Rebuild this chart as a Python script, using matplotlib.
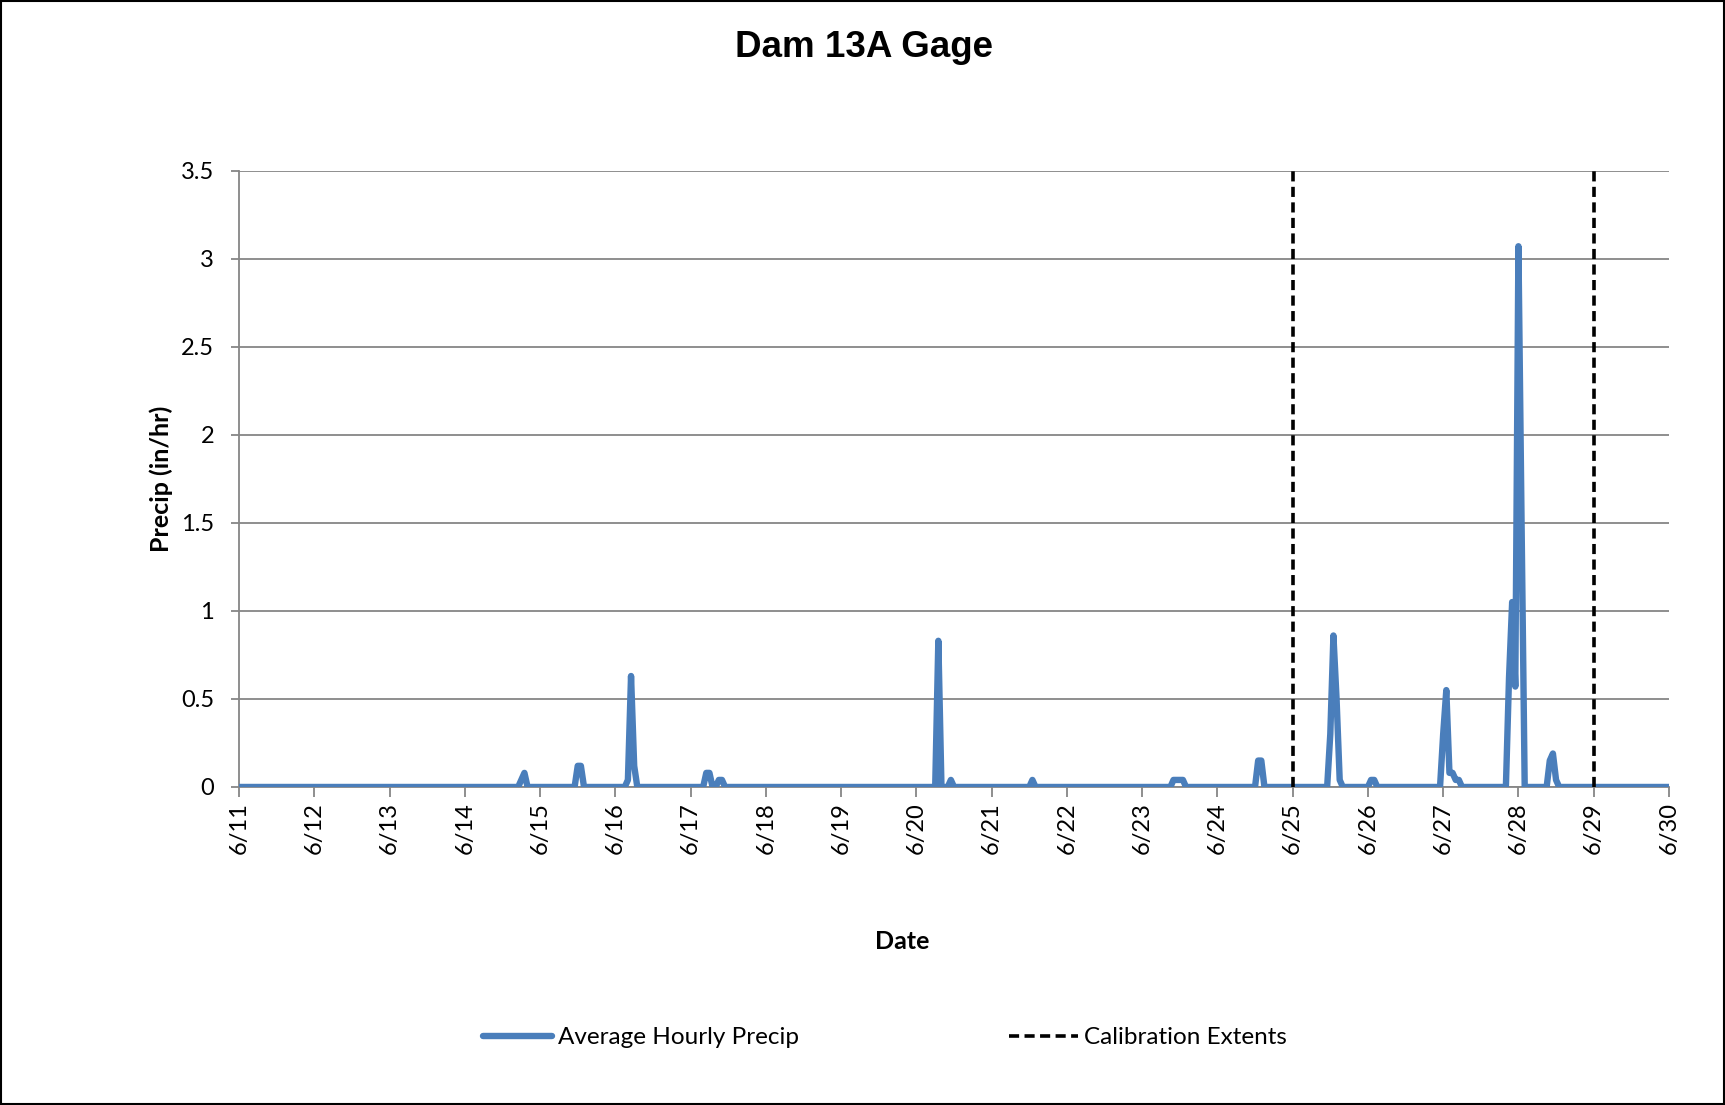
import matplotlib
matplotlib.use("Agg")
import matplotlib.pyplot as plt
import numpy as np
import pandas as pd
from matplotlib.patches import Rectangle

# ---- data ----
start = "2013-06-11 00:00"
end = "2013-06-30 00:00"
event_times = [
    "2013-06-14 18:00", "2013-06-14 19:00",
    "2013-06-15 12:00", "2013-06-15 13:00",
    "2013-06-16 04:00", "2013-06-16 05:00", "2013-06-16 06:00",
    "2013-06-17 05:00", "2013-06-17 06:00", "2013-06-17 09:00", "2013-06-17 10:00",
    "2013-06-20 07:00", "2013-06-20 11:00",
    "2013-06-21 13:00",
    "2013-06-23 10:00", "2013-06-23 11:00", "2013-06-23 12:00", "2013-06-23 13:00",
    "2013-06-24 13:00", "2013-06-24 14:00",
    "2013-06-25 12:00", "2013-06-25 13:00", "2013-06-25 14:00", "2013-06-25 15:00",
    "2013-06-26 01:00", "2013-06-26 02:00",
    "2013-06-27 00:00", "2013-06-27 01:00", "2013-06-27 02:00", "2013-06-27 03:00",
    "2013-06-27 04:00", "2013-06-27 05:00",
    "2013-06-27 21:00", "2013-06-27 22:00", "2013-06-27 23:00",
    "2013-06-28 00:00", "2013-06-28 01:00",
    "2013-06-28 10:00", "2013-06-28 11:00", "2013-06-28 12:00",
]
event_values = [
    0.04, 0.08,
    0.12, 0.12,
    0.04, 0.63, 0.12,
    0.08, 0.08, 0.04, 0.04,
    0.83, 0.04,
    0.04,
    0.04, 0.04, 0.04, 0.04,
    0.15, 0.15,
    0.30, 0.86, 0.50, 0.04,
    0.04, 0.04,
    0.30, 0.55, 0.08, 0.08,
    0.04, 0.04,
    0.62, 1.05, 0.57,
    3.07, 1.50,
    0.15, 0.19, 0.04,
]
calibration_dates = ["2013-06-25", "2013-06-29"]
y_ticks = [0, 0.5, 1, 1.5, 2, 2.5, 3, 3.5]
x_tick_dates = pd.date_range("2013-06-11", "2013-06-30", freq="D")

# build hourly series (zero hours where no rain)
idx = pd.date_range(start, end, freq="h")
precip = pd.Series(0.0, index=idx)
precip.loc[pd.to_datetime(event_times)] = event_values

# ---- plot ----
plt.rcParams['font.family'] = ['Lato', 'DejaVu Sans']
fig = plt.figure(figsize=(17.25, 11.05), dpi=100)
ax = fig.add_axes([0.1386, 0.2878, 0.9675 - 0.1386, 0.8457 - 0.2878])

blue = "#4A7EBB"
grid_c = "#868686"

ax.plot(precip.index, precip.values, color=blue, lw=4.6, solid_joinstyle="round",
        solid_capstyle="round", label="Average Hourly Precip", zorder=3)
for i, d in enumerate(calibration_dates):
    dt = pd.Timestamp(d)
    ax.plot([dt, dt], [0, 3.5], color="black", lw=2.6, linestyle=(0, (2.8, 1.5)),
            label="Calibration Extents" if i == 0 else None, zorder=4)

ax.set_xlim(x_tick_dates[0], x_tick_dates[-1])
ax.set_ylim(0, 3.5)
ax.set_yticks(y_ticks)
ax.set_yticklabels([f"{v:g}" for v in y_ticks])
ax.set_xticks(x_tick_dates)
ax.set_xticklabels([f"{d.month}/{d.day}" for d in x_tick_dates], rotation=90)
ax.yaxis.grid(True, color=grid_c, lw=1.3)
ax.set_axisbelow(True)

for s in ["top", "right"]:
    ax.spines[s].set_visible(False)
ax.spines["left"].set_color(grid_c)
ax.spines["left"].set_linewidth(1.3)
ax.spines["bottom"].set_color(grid_c)
ax.spines["bottom"].set_linewidth(1.3)
ax.tick_params(axis="both", colors=grid_c, labelcolor="black", labelsize=17,
               width=1.3)
ax.tick_params(axis="x", length=7, pad=4)
ax.tick_params(axis="y", length=6, pad=12)

fig.text(0.523, 0.148, "Date", fontsize=18, fontweight="bold", ha="center", va="center")
ax.set_ylabel("Precip (in/hr)", fontsize=18, fontweight="bold", labelpad=6)
fig.text(0.501, 0.957, "Dam 13A Gage", fontsize=26.5, fontweight="bold",
         family=["Liberation Sans", "DejaVu Sans"], ha="center", va="center")

leg = fig.legend(loc="center", bbox_to_anchor=(0.513, 0.0608), ncol=2,
                 frameon=False, fontsize=17.5, handlelength=2.85, handletextpad=0.25,
                 columnspacing=8.6)

fig.patches.append(Rectangle((0.0006, 0.0009), 0.9988, 0.9982, transform=fig.transFigure,
                             fill=False, edgecolor="black", lw=1.5))

fig.savefig("out.png", dpi=100)
